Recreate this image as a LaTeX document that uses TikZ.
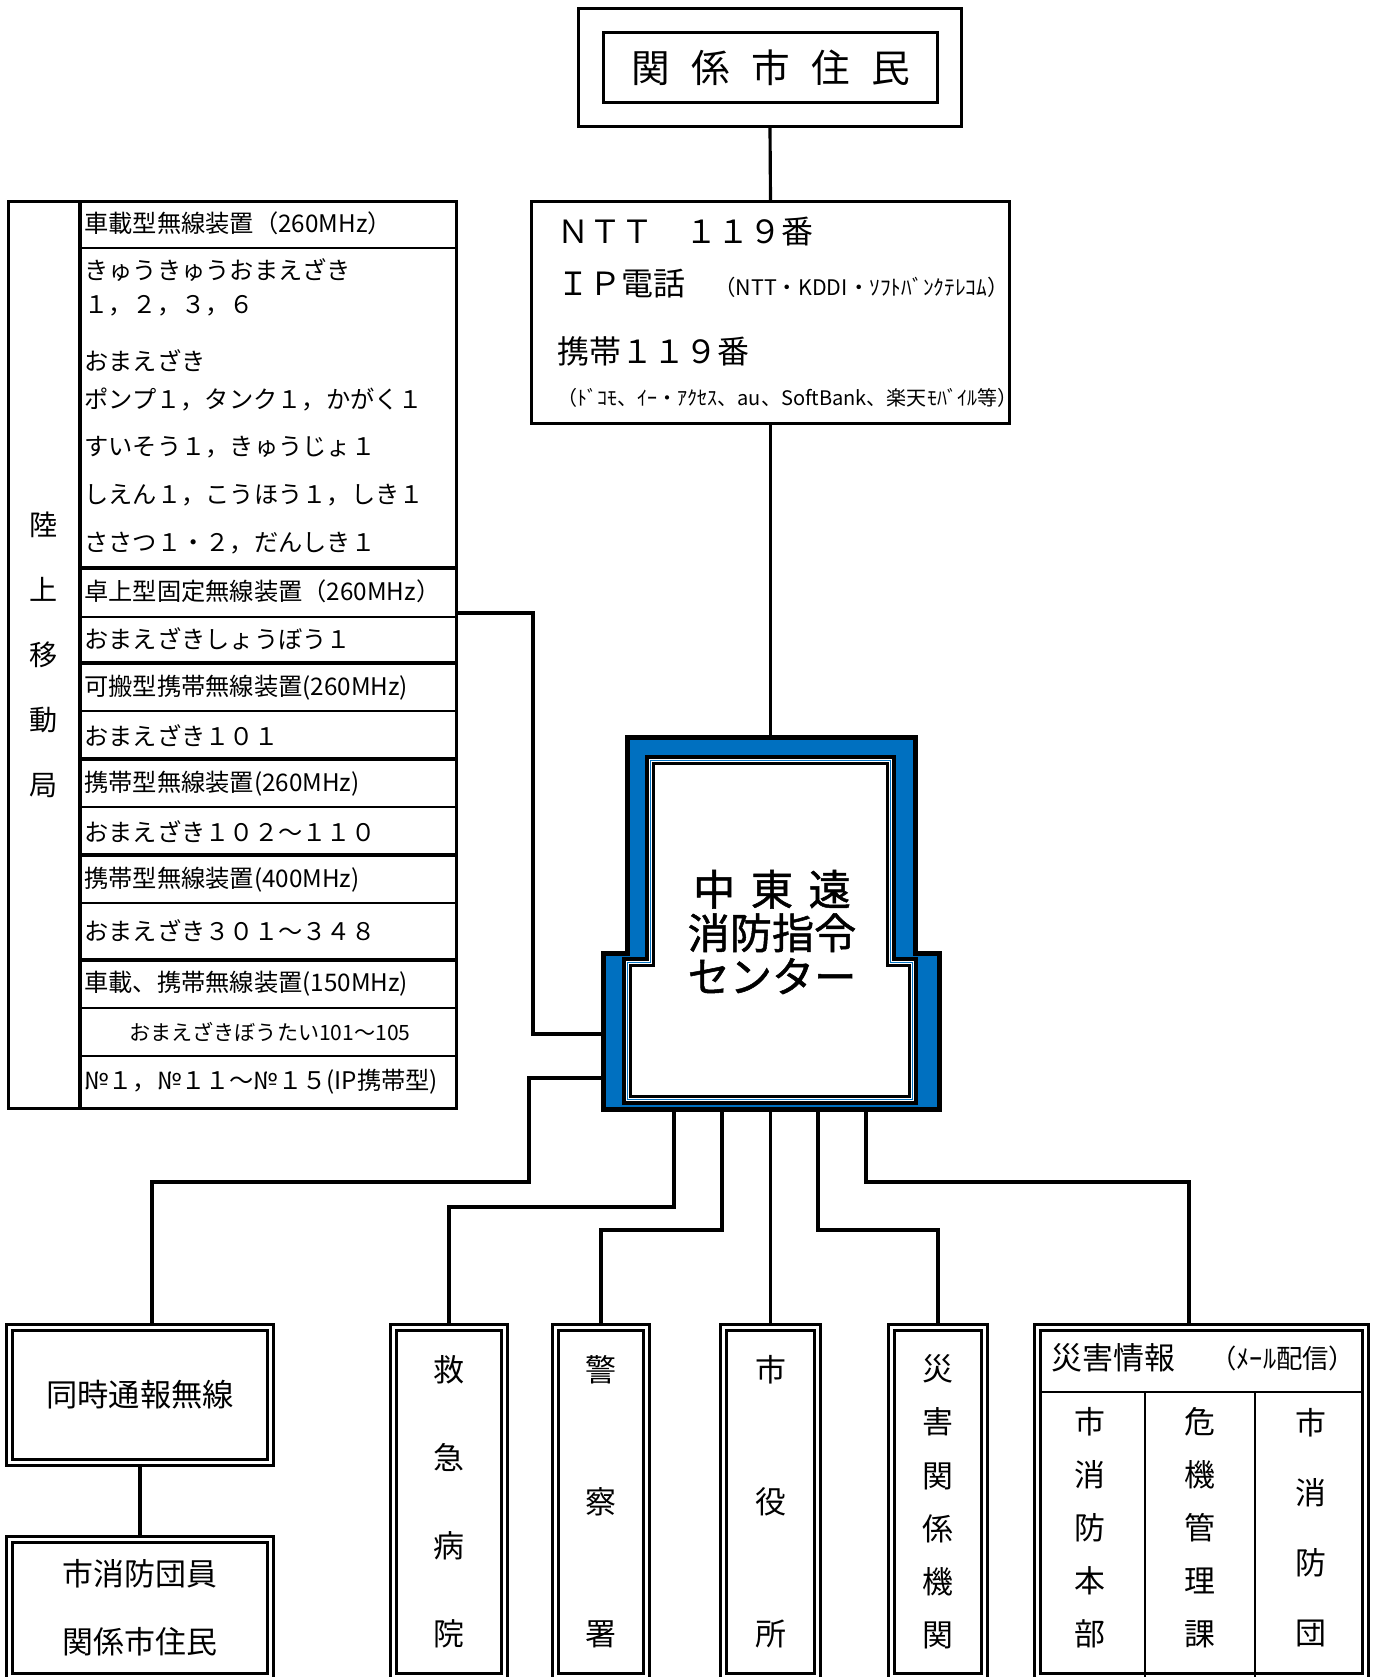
\documentclass[tikz,border=0pt]{standalone}
\usepackage{fontspec}
\setmainfont{Noto Sans CJK JP}
\newfontfamily\CenterFont{Noto Sans CJK JP}[FakeBold=1.2]
\usepackage{tikz}
\usetikzlibrary{positioning}
\definecolor{CenterBlue}{RGB}{0,112,192}
\newcommand{\Gap}{\hspace{0.55em}}
% stepped outline of the centre block, #1 = inset
\newcommand{\OuterStep}[1]{(625+#1,735+#1) -- (918-#1,735+#1) -- (918-#1,951+#1) -- (942-#1,951+#1) -- (942-#1,1112-#1) -- (601+#1,1112-#1) -- (601+#1,951+#1) -- (625+#1,951+#1) -- cycle}
\newcommand{\InnerStep}[1]{(645+#1,755+#1) -- (896-#1,755+#1) -- (896-#1,957+#1) -- (918-#1,957+#1) -- (918-#1,1105-#1) -- (622+#1,1105-#1) -- (622+#1,957+#1) -- (645+#1,957+#1) -- cycle}

\begin{document}
\begin{tikzpicture}[
x=0.02cm, y=-0.02cm,
Wire/.style={draw=black,line width=1.8pt},
SingleBox/.style={draw=black,line width=1.8pt,inner sep=0pt},
DoubleBox/.style={draw=black,double=white,double distance=1.7pt,line width=1.7pt,inner sep=0pt,align=center},
Ghost/.style={inner sep=0pt,outer sep=0pt},
TableText/.style={anchor=west,inner sep=0pt,font=\fontsize{13.8pt}{13.8pt}\selectfont},
LeftText/.style={anchor=west,inner sep=0pt},
ThinRule/.style={draw=black,line width=0.6pt},
ThickRule/.style={draw=black,line width=1.8pt}
]
\useasboundingbox (0,0) rectangle (1375,1677);

% residents on top
\node[SingleBox,minimum width=7.66cm,minimum height=2.36cm] (ResOuter) at (770,67.5) {};
\node[SingleBox,minimum width=6.68cm,minimum height=1.40cm,font=\fontsize{22pt}{22pt}\selectfont] (Residents) at (770.5,67.5) {関\Gap 係\Gap 市\Gap 住\Gap 民};

% 119 lines
\node[SingleBox,minimum width=9.56cm,minimum height=4.44cm] (Ntt) at (770.5,312.5) {};
\node[LeftText,font=\fontsize{18.2pt}{18.2pt}\selectfont] (NttLine) at (557,232) {ＮＴＴ　１１９番};
\node[LeftText,font=\fontsize{18.2pt}{18.2pt}\selectfont] (IpLine) at (557,284) {ＩＰ電話};
\node[LeftText,font=\fontsize{12.2pt}{12.2pt}\selectfont] (IpCarriers) at (714,287) {（NTT・KDDI・ｿﾌﾄﾊﾞﾝｸﾃﾚｺﾑ）};
\node[LeftText,font=\fontsize{18.2pt}{18.2pt}\selectfont] (MobileLine) at (557,351) {携帯１１９番};
\node[LeftText,font=\fontsize{11.4pt}{11.4pt}\selectfont] (MobileCarriers) at (557,398) {（ﾄﾞｺﾓ、ｲｰ・ｱｸｾｽ、au、SoftBank、楽天ﾓﾊﾞｲﾙ等）};

\draw[Wire] (ResOuter.south) -- (Ntt.north);

% centre block
\filldraw[fill=CenterBlue,draw=black,line width=2.8pt] \OuterStep{2.5};
\filldraw[fill=white,draw=black,line width=2.3pt] \InnerStep{2};
\draw[CenterBlue,line width=0.7pt] \InnerStep{5.5};
\draw[black,line width=1.4pt] \InnerStep{8.5};
\node[Ghost,minimum width=5.86cm,minimum height=4.32cm] (CenterTop) at (771.5,843) {};
\node[Ghost,minimum width=6.82cm,minimum height=3.22cm] (CenterLow) at (771.5,1031.5) {};
\node[align=center,font=\CenterFont\fontsize{24pt}{24.8pt}\selectfont] (Center) at (772,932) {中\hspace{.37em}東\hspace{.37em}遠\\消防指令\\センター};

\draw[Wire] (Ntt.south) -- (Ntt.south |- CenterTop.north);

% land mobile stations
\node[SingleBox,minimum width=8.96cm,minimum height=18.14cm] (Radio) at (232.5,655) {};
\draw[ThickRule] (80,201.5) -- (80,1108.5);
\foreach \y in {248,617,711,807,903,1008,1056}
  \draw[ThinRule] (80,\y) -- (456.5,\y);
\foreach \y in {568,663,759,855,960}
  \draw[ThickRule] (80,\y) -- (456.5,\y);
\node[inner sep=0pt,align=center,font=\fontsize{16pt}{37pt}\selectfont] (RadioLabel) at (44,654.5) {陸\\上\\移\\動\\局};
\foreach \y/\t [count=\i] in {
  223.5/車載型無線装置（260MHz）,
  270.5/きゅうきゅうおまえざき,
  306/１，２，３，６,
  361/おまえざき,
  399/ポンプ１，タンク１，かがく１,
  447/すいそう１，きゅうじょ１,
  495/しえん１，こうほう１，しき１,
  543/ささつ１・２，だんしき１,
  591/卓上型固定無線装置（260MHz）,
  639/おまえざきしょうぼう１,
  687.5/可搬型携帯無線装置(260MHz),
  735.6/おまえざき１０１,
  783.7/携帯型無線装置(260MHz),
  832/おまえざき１０２～１１０,
  880/携帯型無線装置(400MHz),
  931/おまえざき３０１～３４８,
  983.7/車載、携帯無線装置(150MHz),
  1082/№１，№１１～№１５(IP携帯型)}
  \node[TableText] (Row\i) at (84,\y) {\t};
\node[inner sep=0pt,font=\fontsize{12pt}{12pt}\selectfont] (RowBoutai) at (270,1032) {おまえざきぼうたい101～105};

% receivers
\node[DoubleBox,minimum width=5.22cm,minimum height=2.70cm,font=\fontsize{17.8pt}{17.8pt}\selectfont] (Doji) at (140,1395) {同時通報無線};
\node[DoubleBox,minimum width=5.22cm,minimum height=2.73cm,font=\fontsize{17.6pt}{38.7pt}\selectfont] (Dan) at (140,1607.8) {市消防団員\\関係市住民};
\node[DoubleBox,minimum width=2.22cm,minimum height=6.97cm,font=\fontsize{17.6pt}{50pt}\selectfont] (Kyukyu) at (449,1501.8) {救\\急\\病\\院};
\node[DoubleBox,minimum width=1.82cm,minimum height=6.97cm,font=\fontsize{17.6pt}{75pt}\selectfont] (Keisatsu) at (601,1501.8) {警\\察\\署};
\node[DoubleBox,minimum width=1.88cm,minimum height=6.97cm,font=\fontsize{17.6pt}{75pt}\selectfont] (Shiyakusho) at (770.5,1501.8) {市\\役\\所};
\node[DoubleBox,minimum width=1.86cm,minimum height=6.97cm,font=\fontsize{17.6pt}{30.2pt}\selectfont] (Saigai) at (938,1501.8) {災\\害\\関\\係\\機\\関};
\node[DoubleBox,minimum width=6.56cm,minimum height=6.97cm] (Joho) at (1201.5,1501.8) {};
\draw[ThinRule] (1042,1392) -- (1361,1392);
\draw[ThinRule] (1145,1392) -- (1145,1677);
\draw[ThinRule] (1255,1392) -- (1255,1677);
\node[LeftText,font=\fontsize{17.6pt}{17.6pt}\selectfont] (JohoHead) at (1051,1358) {災害情報};
\node[LeftText,font=\fontsize{15pt}{15pt}\selectfont] (JohoMail) at (1210,1358) {（ﾒｰﾙ配信）};
\node[align=center,font=\fontsize{17.6pt}{30.2pt}\selectfont] (Honbu) at (1090,1528) {市\\消\\防\\本\\部};
\node[align=center,font=\fontsize{17.6pt}{30.2pt}\selectfont] (Kiki) at (1200,1528) {危\\機\\管\\理\\課};
\node[align=center,font=\fontsize{17.6pt}{39.8pt}\selectfont] (Corps) at (1311,1527.5) {市\\消\\防\\団};

% connectors
\coordinate (J1) at (533,613);
\coordinate (J2) at (533,1034);
\draw[Wire] (Radio.east |- J1) -- (J1) -- (J2) -- (J2 -| CenterLow.west);
\coordinate (J3) at (529,1078);
\coordinate (J4) at (152,1182);
\draw[Wire] (J3 -| CenterLow.west) -- (J3) |- (J4) -- (J4 |- Doji.north);
\draw[Wire] (Doji.south) -- (Dan.north);

\coordinate (K1) at (674,1207);
\coordinate (K2) at (722,1230);
\coordinate (K4) at (818,1230);
\coordinate (K5) at (866,1182);
\coordinate (K6) at (1189,1182);
\draw[Wire] (CenterLow.south -| K1) -- (K1) -| (Kyukyu.north);
\draw[Wire] (CenterLow.south -| K2) -- (K2) -| (Keisatsu.north);
\draw[Wire] (CenterLow.south -| Shiyakusho.north) -- (Shiyakusho.north);
\draw[Wire] (CenterLow.south -| K4) -- (K4) -| (Saigai.north);
\draw[Wire] (CenterLow.south -| K5) -- (K5) -- (K6) -- (K6 |- Joho.north);

\end{tikzpicture}
\end{document}
